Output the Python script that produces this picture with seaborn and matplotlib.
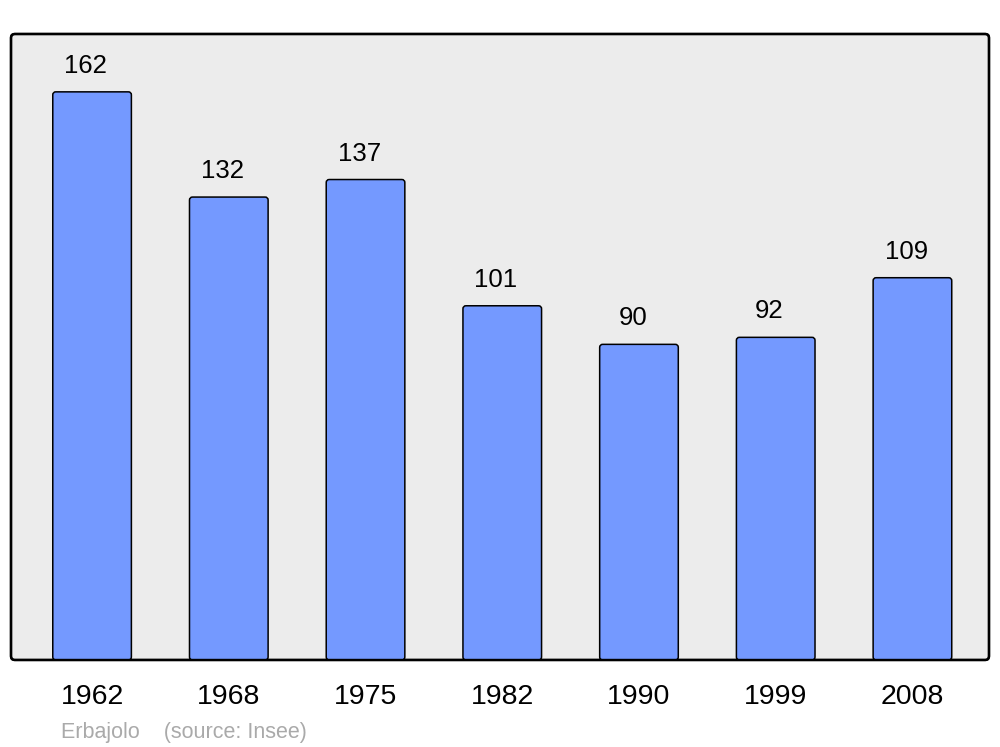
import pandas as pd
import matplotlib.pyplot as plt
import seaborn as sns
from matplotlib.patches import FancyBboxPatch

years = ['1962', '1968', '1975', '1982', '1990', '1999', '2008']
population = [162, 132, 137, 101, 90, 92, 109]

df = pd.DataFrame({'Year': years, 'Population': population})

sns.set_theme(style='white')
plt.rcParams['font.family'] = ['Liberation Sans', 'DejaVu Sans']

fig = plt.figure(figsize=(10, 7.47), dpi=100)
ax = fig.add_axes([0.011, 0.1165, 0.978, 0.838])
ax.set_facecolor('none')

sns.barplot(data=df, x='Year', y='Population', color='#7499ff', saturation=1,
            width=0.575, edgecolor='black', linewidth=1.1, ax=ax)

ax.set_xlim(-0.593, 6.56)
ax.set_ylim(0, 178.5)

# swap the square bars for ones with slightly rounded corners
aspect = (178.5 / 626) / (7.153 / 978)
for p in list(ax.patches):
    x, w, h = p.get_x(), p.get_width(), p.get_height()
    p.remove()
    ax.add_patch(FancyBboxPatch((x, 0), w, h,
                                boxstyle='round,pad=0,rounding_size=0.022',
                                mutation_aspect=aspect, facecolor='#7499ff',
                                edgecolor='black', linewidth=1.1, zorder=2))

# rounded frame with grey fill
frame = FancyBboxPatch((0, 0), 1, 1, boxstyle='round,pad=0,rounding_size=0.004',
                       transform=ax.transAxes, facecolor='#ececec',
                       edgecolor='black', linewidth=1.7, zorder=0,
                       mutation_aspect=978 / 626, clip_on=False)
ax.add_patch(frame)
frame2 = FancyBboxPatch((0, 0), 1, 1, boxstyle='round,pad=0,rounding_size=0.004',
                        transform=ax.transAxes, facecolor='none',
                        edgecolor='black', linewidth=1.7, zorder=5,
                        mutation_aspect=978 / 626, clip_on=False)
ax.add_patch(frame2)

for i, v in enumerate(population):
    ax.annotate(str(v), (i, v), xytext=(-4.5, 10), textcoords='offset points',
                ha='center', va='bottom', fontsize=18.5, color='black')

ax.set_yticks([])
ax.set_xlabel('')
ax.set_ylabel('')
ax.tick_params(axis='x', length=0, pad=17, labelsize=20.5, colors='black')
for s in ax.spines.values():
    s.set_visible(False)

fig.text(0.061, 0.012, 'Erbajolo    (source: Insee)', fontsize=15.5,
         color='#aaaaaa', ha='left', va='baseline')

plt.savefig('out.png', dpi=100)
